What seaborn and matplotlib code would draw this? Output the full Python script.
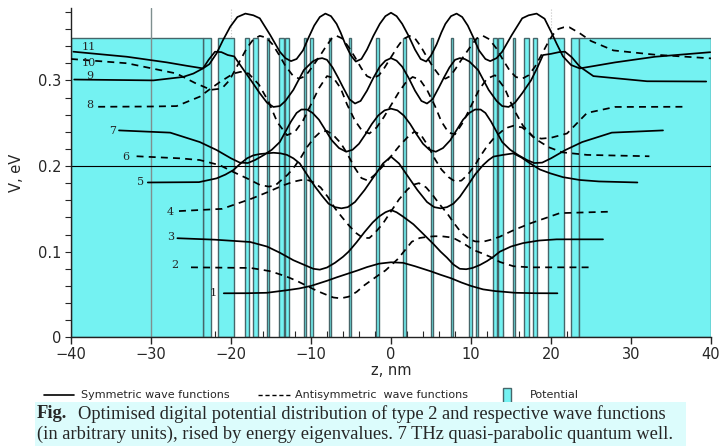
import matplotlib
matplotlib.use("Agg")
import matplotlib.pyplot as plt
from matplotlib.lines import Line2D
from matplotlib.patches import Rectangle
from matplotlib.ticker import MultipleLocator
import seaborn as sns

# Potential: barrier layers for z > 0 (nm), mirrored for z < 0
barrier_start = [1.5, 5.0, 7.5, 9.8, 10.6, 12.8, 13.4, 15.2, 16.6, 17.8, 19.6, 22.5, 23.5]
barrier_end = [1.9, 5.3, 7.8, 10.1, 10.9, 13.2, 14.0, 15.5, 17.3, 18.3, 21.6, 23.5, 40.0]
barrier_height = 0.35

# Wave functions, shifted by their energy (eV)
z1 = [-20.9, -18, -15.5, -13, -11.5, -10, -8, -6.8, -5.5, -4.2, -3, -1.5, 0, 1.5, 3, 4, 5, 6.2, 7.5,
      8.8, 10, 11.5, 13, 15.5, 18, 20.8]
v1 = [0.0514, 0.0515, 0.052, 0.055, 0.057, 0.060, 0.066, 0.070, 0.074, 0.078, 0.082, 0.086, 0.0876,
      0.087, 0.083, 0.080, 0.077, 0.073, 0.069, 0.064, 0.060, 0.056, 0.054, 0.052, 0.0515, 0.0514]

z2 = [-25, -17.6, -16.2, -15, -13, -11.8, -10.5, -9.2, -8, -7.2, -6.3, -5.3, -4.3, -3.3, -2.4, -1.5,
      -0.7, 0, 0.8, 1.6, 2.6, 3.6, 4.7, 5.5, 6.3, 7.2, 8, 9, 10.3, 11.4, 12.4, 13.6, 15.3, 17.4, 25]
v2 = [0.0817, 0.081, 0.079, 0.077, 0.0707, 0.066, 0.060, 0.054, 0.0494, 0.0465, 0.0455, 0.0474, 0.053,
      0.061, 0.067, 0.073, 0.078, 0.084, 0.091, 0.100, 0.1116, 0.116, 0.1175, 0.118, 0.118, 0.117,
      0.115, 0.110, 0.102, 0.098, 0.094, 0.088, 0.083, 0.0817, 0.0817]

z3 = [-26.7, -22, -17.6, -15.5, -13.9, -12.2, -10.5, -9.7, -8.9, -8.0, -7.0, -6.0, -5.3, -4.3, -3.3,
      -2.3, -1.5, -0.7, 0, 0.7, 1.5, 2.8, 4, 5.3, 6.2, 7, 7.8, 8.6, 9.4, 10.2, 11.1, 12, 12.8, 13.6, 15,
      16.5, 18.5, 20.7, 26.5]
v3 = [0.1157, 0.114, 0.1113, 0.106, 0.0988, 0.090, 0.0832, 0.080, 0.079, 0.0815, 0.087, 0.094, 0.100,
      0.111, 0.123, 0.134, 0.141, 0.146, 0.1486, 0.146, 0.141, 0.132, 0.121, 0.109, 0.100, 0.093, 0.085,
      0.080, 0.0795, 0.081, 0.0844, 0.089, 0.094, 0.100, 0.106, 0.110, 0.113, 0.1144, 0.1144]

z4 = [-26.5, -21.1, -17.4, -15.3, -13.6, -12.2, -11.3, -10.5, -9.7, -8.8, -7.9, -7, -6.1, -5.3, -4.4,
      -3.5, -2.7, -2, -1, 0, 1, 2, 2.7, 3.5, 4.4, 5.3, 6.1, 7, 7.9, 8.8, 9.7, 10.5, 11.5, 12.5, 13.6,
      15.3, 17.4, 21.1, 27.4]
v4 = [0.1474, 0.150, 0.162, 0.170, 0.177, 0.1817, 0.1835, 0.184, 0.181, 0.175, 0.164, 0.1506, 0.140,
      0.131, 0.122, 0.116, 0.116, 0.122, 0.133, 0.147, 0.161, 0.172, 0.178, 0.180, 0.175, 0.165, 0.155,
      0.145, 0.133, 0.122, 0.115, 0.112, 0.1116, 0.114, 0.1175, 0.125, 0.133, 0.145, 0.1467]

z5 = [-30.4, -24, -21.8, -20.7, -19.7, -18.8, -18, -17.2, -16.4, -14.7, -13.8, -13, -12.2, -11.4, -10.5,
      -9.5, -8.6, -7.8, -7, -6.2, -5.4, -4.5, -3.3, -2, -1, 0, 1, 2, 3.3, 4.5, 5.4, 6.2, 7, 7.8, 8.6,
      9.5, 10.5, 11.5, 12.2, 12.8, 14, 15.3, 16.3, 17.4, 18.6, 19.9, 21.5, 23.6, 26, 30.8]
v5 = [0.1808, 0.1812, 0.1856, 0.190, 0.1953, 0.203, 0.209, 0.2125, 0.214, 0.2155, 0.2148, 0.213, 0.209,
      0.203, 0.190, 0.176, 0.165, 0.156, 0.152, 0.1506, 0.152, 0.158, 0.172, 0.1895, 0.203, 0.211,
      0.203, 0.1895, 0.172, 0.158, 0.152, 0.1506, 0.152, 0.156, 0.164, 0.176, 0.190, 0.201, 0.207,
      0.211, 0.213, 0.2148, 0.210, 0.203, 0.196, 0.1915, 0.187, 0.1837, 0.182, 0.1808]

z6 = [-31.8, -26.4, -23.9, -21.4, -19.7, -18, -16.4, -15.3, -14.5, -13.9, -12.9, -12, -11.2, -10.5,
      -9.6, -8.8, -8, -7.2, -6.3, -5.5, -4.6, -3.7, -2.9, -2, -1, 0, 1, 2, 2.9, 3.7, 4.6, 5.5, 6.3, 7.2,
      8, 8.8, 9.6, 10.5, 11.2, 12, 12.9, 13.9, 14.6, 15.3, 16.4, 17.2, 18, 19.7, 21.4, 24.5, 32.3]
v6 = [0.2114, 0.209, 0.207, 0.201, 0.193, 0.1856, 0.178, 0.176, 0.177, 0.182, 0.190, 0.200, 0.211,
      0.222, 0.233, 0.240, 0.241, 0.236, 0.227, 0.215, 0.199, 0.186, 0.183, 0.190, 0.200, 0.2114, 0.223,
      0.233, 0.240, 0.237, 0.224, 0.208, 0.196, 0.187, 0.182, 0.183, 0.190, 0.201, 0.212, 0.223, 0.233,
      0.241, 0.245, 0.247, 0.245, 0.239, 0.232, 0.222, 0.216, 0.213, 0.2114]

z7 = [-34, -27.6, -23.9, -21.8, -20, -18.9, -17.9, -17, -15.9, -14.9, -13.9, -13.2, -12.5, -11.8, -11.2,
      -10.5, -9.8, -9.0, -8.2, -7.4, -6.5, -5.6, -4.8, -4.0, -3.2, -2.4, -1.6, -0.8, 0, 0.8, 1.6, 2.4,
      3.2, 4.0, 4.8, 5.6, 6.5, 7.4, 8.2, 9.0, 9.8, 10.5, 11.2, 11.8, 12.5, 13.2, 13.9, 14.9, 15.9, 17,
      17.9, 18.9, 20, 21.8, 23.9, 27.6, 34]
v7 = [0.2416, 0.239, 0.228, 0.2187, 0.209, 0.204, 0.2035, 0.207, 0.2128, 0.219, 0.228, 0.240, 0.252,
      0.262, 0.266, 0.266, 0.262, 0.254, 0.242, 0.230, 0.221, 0.2167, 0.219, 0.226, 0.237, 0.249, 0.259,
      0.265, 0.267, 0.265, 0.259, 0.249, 0.237, 0.226, 0.219, 0.2167, 0.221, 0.230, 0.242, 0.254, 0.262,
      0.266, 0.266, 0.262, 0.252, 0.240, 0.228, 0.219, 0.2128, 0.207, 0.2035, 0.204, 0.209, 0.2187,
      0.228, 0.239, 0.2416]

z8 = [-36.6, -30, -26.8, -23.9, -22.6, -21.4, -19.7, -18.8, -17.8, -16.5, -15.3, -14.2, -13, -12, -11,
      -10, -9, -8, -7.2, -6.3, -5.5, -4.5, -3.6, -2.7, -1.8, -0.9, 0, 0.9, 1.8, 2.7, 3.6, 4.5, 5.5, 6.3,
      7.2, 8, 9, 10, 11, 12, 13, 14.2, 15.3, 16.5, 17.8, 18.8, 20, 22, 24.5, 28, 36.9]
v8 = [0.2692, 0.2695, 0.270, 0.281, 0.290, 0.298, 0.308, 0.310, 0.308, 0.295, 0.275, 0.251, 0.236, 0.240,
      0.253, 0.272, 0.291, 0.305, 0.303, 0.291, 0.272, 0.253, 0.241, 0.238, 0.245, 0.257, 0.271, 0.285,
      0.297, 0.304, 0.301, 0.289, 0.270, 0.252, 0.239, 0.237, 0.251, 0.270, 0.289, 0.302, 0.306, 0.291,
      0.267, 0.247, 0.234, 0.232, 0.233, 0.238, 0.262, 0.269, 0.2692]

z9 = [-39.6, -29.7, -26, -24.7, -23.5, -22.8, -22, -21.2, -20.4, -19.6, -18.7, -17.5, -16.4, -15.5,
      -14.7, -13.9, -13.2, -12.2, -10.9, -9.8, -9.2, -8.6, -8.0, -7.3, -6.6, -6.0, -5.2, -4.5, -3.8, -3.0,
      -2.2, -1.4, -0.7, 0, 0.7, 1.4, 2.2, 3.0, 3.8, 4.5, 5.2, 6.0, 6.6, 7.3, 8.0, 8.6, 9.2, 9.8, 10.9,
      12.2, 13.2, 13.9, 14.7, 15.5, 16.4, 17.5, 18.3, 19, 20, 21, 21.75, 22.6, 23.6, 25.3, 32, 39.4]
v9 = [0.301, 0.300, 0.304, 0.308, 0.314, 0.324, 0.3335, 0.333, 0.3296, 0.328, 0.316, 0.300, 0.285,
      0.274, 0.269, 0.270, 0.276, 0.289, 0.312, 0.322, 0.325, 0.326, 0.324, 0.315, 0.303, 0.292, 0.278,
      0.273, 0.276, 0.288, 0.303, 0.316, 0.323, 0.326, 0.323, 0.316, 0.303, 0.288, 0.276, 0.273, 0.278,
      0.292, 0.303, 0.315, 0.324, 0.326, 0.325, 0.322, 0.312, 0.289, 0.276, 0.270, 0.269, 0.274, 0.285,
      0.300, 0.315, 0.3296, 0.331, 0.333, 0.3335, 0.327, 0.316, 0.305, 0.299, 0.2987]

z10 = [-40, -33, -26.8, -24.5, -22.5, -21.6, -21, -20.2, -19.5, -18.7, -18, -17.2, -16.4, -15.6, -14.8,
       -14, -13.2, -12.3, -11.5, -10.7, -9.9, -9, -8.1, -7.4, -6.8, -6.1, -5.3, -4.5, -3.7, -3.0, -2.3,
       -1.5, -0.8, 0, 0.8, 1.5, 2.3, 3.0, 3.7, 4.5, 5.3, 6.1, 6.8, 7.4, 8.1, 9, 9.9, 10.7, 11.5, 12.3,
       13.2, 14, 14.8, 15.6, 16.4, 17.2, 18, 18.7, 19.5, 20.2, 20.9, 21.6, 22.3, 23.6, 25, 27.8, 33, 40]
v10 = [0.325, 0.320, 0.308, 0.297, 0.289, 0.290, 0.292, 0.300, 0.312, 0.326, 0.338, 0.348, 0.352,
       0.350, 0.342, 0.330, 0.317, 0.306, 0.302, 0.305, 0.315, 0.327, 0.340, 0.349, 0.352, 0.349,
       0.339, 0.327, 0.314, 0.305, 0.302, 0.306, 0.315, 0.327, 0.339, 0.348, 0.352, 0.349, 0.340,
       0.327, 0.315, 0.305, 0.302, 0.305, 0.314, 0.327, 0.339, 0.349, 0.352, 0.348, 0.337, 0.324,
       0.312, 0.304, 0.302, 0.306, 0.316, 0.328, 0.342, 0.353, 0.360, 0.362, 0.362, 0.355, 0.346,
       0.335, 0.330, 0.3257]

z11 = [-39.7, -33, -28, -25.5, -23.5, -22.7, -21.8, -21, -20.1, -19.2, -18.2, -17.2, -16.4, -15.1, -13.9,
       -13.2, -12.5, -11.8, -11, -10.3, -9.6, -8.9, -8.2, -7.5, -6.8, -6.3, -5.7, -5.0, -4.4, -3.7, -3.0,
       -2.2, -1.4, -0.7, 0, 0.7, 1.4, 2.2, 3.0, 3.7, 4.4, 5.0, 5.7, 6.3, 6.8, 7.5, 8.2, 8.9, 9.6, 10.3,
       11, 11.8, 12.4, 13.2, 13.9, 15.1, 16.4, 17.2, 18.2, 19.2, 20, 20.7, 21.5, 22.5, 23.6, 25.5, 28, 33,
       39.9]
v11 = [0.3335, 0.3276, 0.321, 0.317, 0.314, 0.319, 0.3316, 0.347, 0.3626, 0.374, 0.378, 0.376, 0.3725,
       0.353, 0.3335, 0.326, 0.3225, 0.325, 0.335, 0.350, 0.364, 0.374, 0.378, 0.375, 0.366, 0.356,
       0.342, 0.329, 0.322, 0.325, 0.336, 0.352, 0.366, 0.375, 0.379, 0.375, 0.366, 0.352, 0.336, 0.325,
       0.322, 0.329, 0.342, 0.356, 0.366, 0.375, 0.378, 0.374, 0.364, 0.350, 0.335, 0.325, 0.3225,
       0.326, 0.3335, 0.353, 0.3725, 0.376, 0.378, 0.372, 0.357, 0.343, 0.328, 0.318, 0.314, 0.317,
       0.321, 0.3276, 0.3329]

curves = [(z1, v1), (z2, v2), (z3, v3), (z4, v4), (z5, v5), (z6, v6), (z7, v7), (z8, v8), (z9, v9),
          (z10, v10), (z11, v11)]
state_labels = ["1", "2", "3", "4", "5", "6", "7", "8", "9", "10", "11"]
label_z = [-22.2, -27.0, -27.6, -27.6, -31.3, -33.1, -34.8, -37.6, -37.6, -37.8, -37.8]
label_v = [0.052, 0.084, 0.117, 0.146, 0.181, 0.210, 0.241, 0.271, 0.305, 0.320, 0.339]

cyan = "#74f2f2"
edge = "#46666a"

sns.set_style("ticks")
plt.rcParams["font.family"] = ["DejaVu Sans"]

fig = plt.figure(figsize=(7.2, 4.46), dpi=100)
ax = fig.add_axes([0.0986, 0.2437, 0.8889, 0.7383])

# light grid remnants behind the potential
for gz in [-20, 20]:
    ax.axvline(gz, color="#c4c4c4", lw=0.8, ls=":", zorder=0.5)

# potential barriers, mirrored around z = 0
lefts = [-e for e in barrier_end] + barrier_start
widths = [e - s for s, e in zip(barrier_start, barrier_end)] * 2
ax.bar(lefts, [barrier_height] * len(lefts), width=widths, align="edge",
       color=cyan, edgecolor=edge, linewidth=1.0, zorder=1)

ax.axvline(-30, color="#7f8f8f", lw=1.0, zorder=2)
ax.axhline(0.2, color="black", lw=0.8, zorder=2)

for i, (zz, vv) in enumerate(curves):
    ls = "-" if i % 2 == 0 else (0, (4, 3))
    sns.lineplot(x=zz, y=vv, ax=ax, color="black", lw=1.25, linestyle=ls,
                 sort=False, estimator=None, zorder=3)
    ax.text(label_z[i], label_v[i], state_labels[i], fontsize=8, ha="center", va="center",
            family="DejaVu Serif", zorder=4)

ax.set_xlim(-40, 40)
ax.set_ylim(0, 0.3845)
ax.set_xticks(range(-40, 41, 10))
ax.xaxis.set_minor_locator(MultipleLocator(2))
ax.set_yticks([0, 0.1, 0.2, 0.3])
ax.set_yticklabels(["0", "0.1", "0.2", "0.3"])
ax.yaxis.set_minor_locator(MultipleLocator(0.02))
ax.tick_params(axis="x", which="major", direction="out", length=5, width=1, labelsize=10.5, pad=2)
ax.tick_params(axis="x", which="minor", direction="in", length=4, width=0.8)
ax.tick_params(axis="y", which="both", direction="out", length=4, width=0.8, labelsize=10.5, pad=3)
ax.set_xlabel("z, nm", fontsize=10.5, labelpad=1)
ax.set_ylabel("V, eV", fontsize=10.5, labelpad=10)
sns.despine(ax=ax)
for sp in ["left", "bottom"]:
    ax.spines[sp].set_color("#222222")
    ax.spines[sp].set_linewidth(1.0)

# legend row
ly = 1 - 395 / 446
fig.add_artist(Line2D([44 / 720, 74 / 720], [ly, ly], color="black", lw=1.2))
fig.text(81 / 720, ly, "Symmetric wave functions", fontsize=8, va="center")
fig.add_artist(Line2D([258 / 720, 291 / 720], [ly, ly], color="black", lw=1.0, ls=(0, (3, 2))))
fig.text(295 / 720, ly, "Antisymmetric  wave functions", fontsize=8, va="center")
fig.add_artist(Rectangle((503 / 720, 1 - 404 / 446), 8 / 720, 16 / 446, facecolor=cyan,
                         edgecolor=edge, lw=1.0))
fig.text(530 / 720, ly, "Potential", fontsize=8, va="center")

# caption
fig.add_artist(Rectangle((35 / 720, 0), 651 / 720, 44 / 446, facecolor="#dcfcfc", edgecolor="none"))
fig.text(37 / 720, 1 - 414 / 446, "Fig.", fontsize=13.3, weight="bold", va="center",
         family="Liberation Serif")
fig.text(78 / 720, 1 - 414 / 446,
         "Optimised digital potential distribution of type 2 and respective wave functions",
         fontsize=13.3, va="center", family="Liberation Serif")
fig.text(37 / 720, 1 - 434 / 446,
         "(in arbitrary units), rised by energy eigenvalues. 7 THz quasi-parabolic quantum well.",
         fontsize=13.3, va="center", family="Liberation Serif")

fig.savefig("out.png", dpi=100)
